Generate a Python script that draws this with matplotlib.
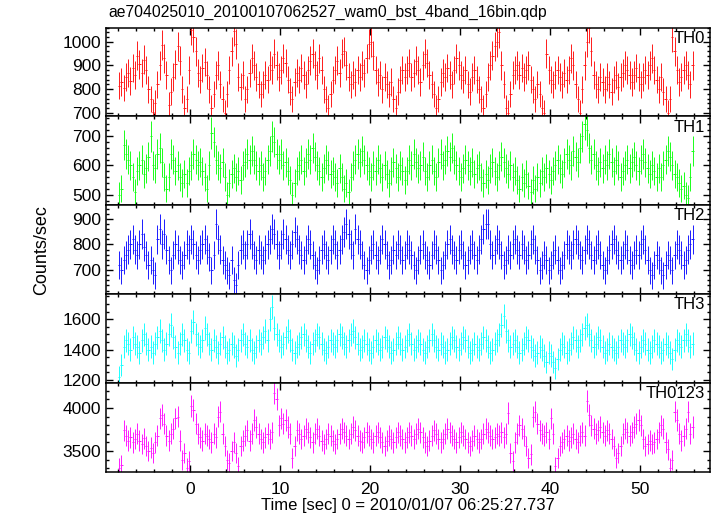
import numpy as np
import matplotlib
matplotlib.use("agg")
import matplotlib.pyplot as plt
from matplotlib.ticker import MultipleLocator

# light curve, 0.25 s bins starting at t = -8 s
bin_size = 0.25
t_start = -8.0

th0 = [
    815, 830, 805, 850, 870, 835, 890, 860, 940, 905, 870, 925, 880, 800, 760, 705,
    740, 820, 900, 985, 930, 860, 735, 790, 850, 905, 980, 920, 800, 720, 760, 880,
    1050, 1020, 960, 870, 840, 890, 915, 860, 800, 720, 780, 860, 900, 820, 760, 700,
    780, 880, 960, 1045, 990, 850, 810, 860, 760, 800, 870, 930, 900, 850, 820, 780,
    820, 860, 840, 900, 880, 950, 900, 850, 880, 930, 910, 840, 790, 760, 830, 870,
    840, 890, 860, 820, 880, 920, 950, 900, 860, 930, 880, 800, 760, 720, 780, 840,
    880, 920, 870, 950, 960, 900, 850, 820, 860, 830, 880, 850, 900, 870, 930, 990,
    1000, 940, 880, 830, 860, 800, 850, 820, 780, 830, 760, 720, 790, 840, 880, 850,
    880, 910, 850, 870, 920, 880, 830, 900, 950, 910, 860, 820, 780, 720, 760, 830,
    870, 850, 890, 860, 820, 880, 930, 900, 860, 840, 880, 820, 790, 850, 880, 840,
    800, 760, 720, 780, 850, 900, 940, 980, 1000, 1040, 900, 820, 720, 700, 780, 860,
    880, 900, 860, 890, 850, 880, 900, 840, 800, 760, 820, 780, 720, 700, 950, 880,
    840, 820, 860, 880, 850, 820, 870, 840, 880, 930, 900, 820, 760, 700, 800, 900,
    1000, 1060, 960, 860, 820, 800, 850, 830, 800, 850, 820, 790, 840, 860, 810, 850,
    870, 900, 880, 860, 830, 860, 890, 850, 820, 850, 880, 860, 900, 930, 880, 840,
    800, 850, 790, 760, 700, 760, 1020, 960, 880, 830, 850, 880, 900, 860, 820, 900,
]

th1 = [
    500, 520, 670, 640, 620, 600, 560, 510, 580, 600, 620, 570, 590, 630, 700, 600,
    590, 640, 660, 610, 560, 520, 560, 640, 620, 580, 600, 560, 540, 570, 540, 580,
    600, 640, 620, 600, 610, 580, 560, 520, 600, 710, 680, 620, 600, 590, 610, 560,
    500, 540, 570, 590, 560, 580, 550, 600, 610, 640, 620, 650, 620, 600, 580, 600,
    560, 580, 620, 650, 700, 680, 640, 620, 640, 600, 610, 580, 550, 500, 540, 580,
    600, 620, 580, 610, 640, 620, 660, 630, 600, 580, 560, 590, 620, 600, 570, 580,
    560, 540, 590, 560, 520, 540, 510, 560, 600, 620, 640, 610, 650, 620, 600, 580,
    560, 600, 580, 620, 590, 560, 600, 570, 540, 580, 610, 590, 560, 600, 580, 550,
    580, 620, 600, 640, 610, 590, 600, 630, 580, 560, 600, 620, 580, 560, 610, 640,
    600, 620, 650, 630, 660, 620, 600, 580, 560, 590, 620, 600, 580, 610, 570, 590,
    600, 560, 540, 570, 550, 590, 610, 580, 560, 600, 630, 610, 590, 570, 600, 560,
    580, 550, 520, 560, 540, 570, 530, 510, 550, 520, 560, 540, 580, 560, 590, 570,
    550, 580, 600, 620, 590, 570, 610, 640, 620, 600, 650, 630, 610, 660, 700, 740,
    720, 660, 620, 640, 600, 580, 610, 590, 620, 600, 640, 610, 580, 620, 600, 560,
    580, 600, 620, 590, 610, 630, 600, 580, 620, 640, 610, 590, 570, 600, 580, 560,
    590, 560, 600, 620, 650, 630, 600, 570, 560, 540, 520, 530, 500, 490, 560, 650,
]

th2 = [
    720, 700, 740, 760, 780, 800, 820, 780, 760, 800, 840, 790, 760, 720, 740, 700,
    680, 820, 860, 800, 840, 780, 740, 700, 760, 800, 780, 740, 720, 760, 800, 780,
    820, 800, 760, 740, 780, 800, 820, 780, 750, 700, 760, 880, 820, 780, 740, 720,
    700, 680, 740, 660, 640, 720, 780, 800, 760, 800, 840, 800, 760, 740, 780, 760,
    740, 780, 800, 820, 860, 840, 800, 760, 800, 840, 820, 780, 760, 800, 850, 820,
    780, 760, 740, 780, 820, 800, 760, 720, 700, 740, 780, 800, 760, 740, 780, 820,
    800, 760, 780, 820, 850, 880, 840, 800, 760, 860, 820, 800, 760, 720, 700, 740,
    780, 800, 760, 740, 780, 820, 800, 760, 720, 740, 780, 760, 800, 780, 740, 760,
    800, 780, 760, 720, 700, 740, 780, 800, 760, 740, 720, 760, 800, 780, 740, 700,
    720, 760, 800, 820, 780, 760, 740, 780, 800, 760, 720, 740, 780, 800, 760, 740,
    780, 820, 860, 880, 880, 800, 760, 780, 820, 800, 760, 720, 740, 780, 760, 800,
    820, 780, 760, 800, 780, 740, 760, 800, 820, 780, 740, 700, 720, 760, 740, 700,
    720, 760, 780, 740, 700, 720, 760, 800, 780, 760, 800, 820, 800, 760, 740, 780,
    820, 800, 760, 740, 780, 800, 760, 720, 700, 740, 780, 800, 820, 780, 760, 740,
    760, 800, 780, 740, 720, 760, 780, 760, 800, 820, 780, 740, 700, 680, 720, 760,
    740, 700, 680, 720, 760, 740, 700, 760, 800, 780, 760, 720, 740, 780, 800, 820,
]

th3 = [
    1220, 1300, 1420, 1460, 1440, 1400, 1480, 1440, 1420, 1380, 1460, 1500, 1440, 1400, 1420, 1380,
    1440, 1480, 1520, 1460, 1400, 1440, 1500, 1560, 1480, 1420, 1380, 1440, 1500, 1460, 1400, 1380,
    1520, 1580, 1500, 1440, 1420, 1460, 1540, 1500, 1440, 1400, 1460, 1420, 1380, 1440, 1480, 1420,
    1380, 1400, 1440, 1420, 1360, 1400, 1460, 1500, 1440, 1420, 1460, 1400, 1380, 1420, 1460, 1440,
    1480, 1520, 1460, 1600, 1680, 1540, 1500, 1460, 1420, 1440, 1480, 1520, 1460, 1400, 1380, 1420,
    1440, 1480, 1500, 1460, 1420, 1380, 1440, 1460, 1500, 1480, 1440, 1400, 1380, 1420, 1460, 1440,
    1420, 1460, 1500, 1480, 1440, 1420, 1460, 1500, 1520, 1480, 1440, 1400, 1420, 1460, 1440, 1400,
    1380, 1420, 1460, 1440, 1400, 1420, 1480, 1460, 1420, 1380, 1400, 1440, 1480, 1440, 1400, 1420,
    1460, 1500, 1440, 1400, 1420, 1460, 1440, 1400, 1380, 1420, 1460, 1500, 1460, 1420, 1400, 1440,
    1420, 1380, 1400, 1440, 1480, 1460, 1420, 1400, 1440, 1480, 1460, 1420, 1380, 1400, 1440, 1420,
    1400, 1440, 1480, 1460, 1420, 1380, 1400, 1440, 1460, 1500, 1560, 1620, 1520, 1460, 1420, 1440,
    1460, 1420, 1380, 1400, 1440, 1480, 1460, 1420, 1400, 1360, 1380, 1420, 1400, 1360, 1320, 1380,
    1360, 1320, 1280, 1340, 1400, 1440, 1420, 1380, 1400, 1440, 1480, 1460, 1420, 1460, 1500, 1540,
    1560, 1500, 1460, 1420, 1440, 1480, 1460, 1420, 1380, 1400, 1440, 1420, 1400, 1380, 1420, 1460,
    1440, 1420, 1460, 1500, 1480, 1440, 1400, 1380, 1420, 1460, 1440, 1400, 1380, 1420, 1460, 1440,
    1420, 1380, 1400, 1440, 1420, 1380, 1340, 1400, 1460, 1440, 1420, 1460, 1500, 1460, 1420, 1440,
]

th0123 = [
    3300, 3340, 3740, 3680, 3620, 3660, 3600, 3640, 3700, 3620, 3580, 3650, 3560, 3500, 3540, 3480,
    3600, 3680, 3880, 3920, 3820, 3680, 3620, 3700, 3760, 3880, 3900, 3620, 3400, 3480, 3300, 3380,
    4020, 3980, 3820, 3700, 3660, 3620, 3700, 3680, 3640, 3600, 3700, 3660, 3900, 3960, 3700, 3560,
    3400, 3360, 3500, 3600, 3480, 3320, 3560, 3620, 3680, 3740, 3620, 3700, 3860, 3780, 3700, 3640,
    3600, 3660, 3700, 3640, 3720, 4180, 4100, 3800, 3880, 3820, 3860, 3780, 3700, 3420, 3560, 3740,
    3700, 3640, 3680, 3760, 3720, 3660, 3600, 3700, 3760, 3680, 3620, 3580, 3640, 3700, 3680, 3620,
    3580, 3640, 3700, 3760, 3720, 3680, 3640, 3700, 3780, 3740, 3680, 3620, 3600, 3660, 3720, 3680,
    3640, 3600, 3680, 3720, 3660, 3600, 3560, 3620, 3680, 3640, 3600, 3660, 3720, 3680, 3640, 3600,
    3660, 3720, 3680, 3640, 3700, 3760, 3720, 3660, 3600, 3560, 3620, 3680, 3740, 3700, 3640, 3600,
    3640, 3700, 3760, 3720, 3680, 3640, 3600, 3660, 3720, 3680, 3640, 3600, 3560, 3620, 3680, 3640,
    3600, 3640, 3700, 3760, 3720, 3680, 3640, 3660, 3700, 3680, 3720, 3660, 3700, 3940, 3480, 3380,
    3600, 3700, 3800, 3760, 3680, 3560, 3420, 3460, 3900, 3960, 3820, 3740, 3700, 3680, 3720, 3640,
    3880, 3700, 3320, 3420, 3560, 3600, 3640, 3680, 3620, 3660, 3700, 3640, 3600, 3680, 3720, 3680,
    4080, 3920, 3800, 3760, 3700, 3740, 3780, 3720, 3680, 3740, 3700, 3640, 3560, 3420, 3480, 3560,
    3700, 3760, 3720, 3680, 3720, 3780, 3820, 3860, 3800, 3640, 3560, 3580, 3620, 3580, 3600, 3640,
    3720, 3800, 3760, 3600, 3520, 3300, 3400, 3960, 3860, 3700, 3620, 3680, 3760, 3960, 3700, 3780,
]

bands = ["TH0", "TH1", "TH2", "TH3", "TH0123"]
series = [th0, th1, th2, th3, th0123]
colors = ["#ff1a1a", "#1aff1a", "#1a1aff", "#1affff", "#ff1aff"]
ylims = [(685, 1060), (464, 767), (606, 953), (1180, 1764), (3256, 4291)]
major = [100, 100, 100, 200, 500]
minor = [20, 20, 20, 50, 100]

plt.rcParams["font.family"] = ["Liberation Sans", "DejaVu Sans"]

fig, axes = plt.subplots(5, 1, sharex=True, figsize=(7.17, 5.16), dpi=100)
fig.subplots_adjust(left=0.148, right=0.990, top=0.9467, bottom=0.0853, hspace=0)

for ax, name, y, col, lim, maj, mnr in zip(axes, bands, series, colors, ylims, major, minor):
    y = np.array(y, dtype=float)
    t = t_start + bin_size * (np.arange(len(y)) + 0.5)
    err = np.sqrt(y / bin_size)
    ax.errorbar(t, y, xerr=bin_size / 2, yerr=err, fmt="none", ecolor=col, elinewidth=0.7, capsize=0)
    ax.set_ylim(*lim)
    ax.yaxis.set_major_locator(MultipleLocator(maj))
    ax.yaxis.set_minor_locator(MultipleLocator(mnr))
    ax.text(0.992, 0.965, name, transform=ax.transAxes, ha="right", va="top", fontsize=12)
    ax.tick_params(which="both", direction="in", top=True, right=True, labelsize=12.5, width=1)
    ax.tick_params(which="major", length=5)
    ax.tick_params(which="minor", length=2.5)
    ax.tick_params(axis="x", pad=7)
    for s in ax.spines.values():
        s.set_linewidth(1.1)

axes[-1].set_xlim(-9.33, 57.8)
axes[-1].xaxis.set_major_locator(MultipleLocator(10))
axes[-1].xaxis.set_minor_locator(MultipleLocator(2))
axes[-1].set_xlabel("Time [sec] 0 = 2010/01/07 06:25:27.737", fontsize=12, labelpad=1)

fig.text(0.058, 0.515, "Counts/sec", rotation=90, ha="center", va="center", fontsize=13)
fig.text(108 / 717, 1 - 12 / 516, "ae704025010_20100107062527_wam0_bst_4band_16bin.qdp",
         ha="left", va="center", fontsize=11.3)

fig.savefig("out.png", dpi=100)
